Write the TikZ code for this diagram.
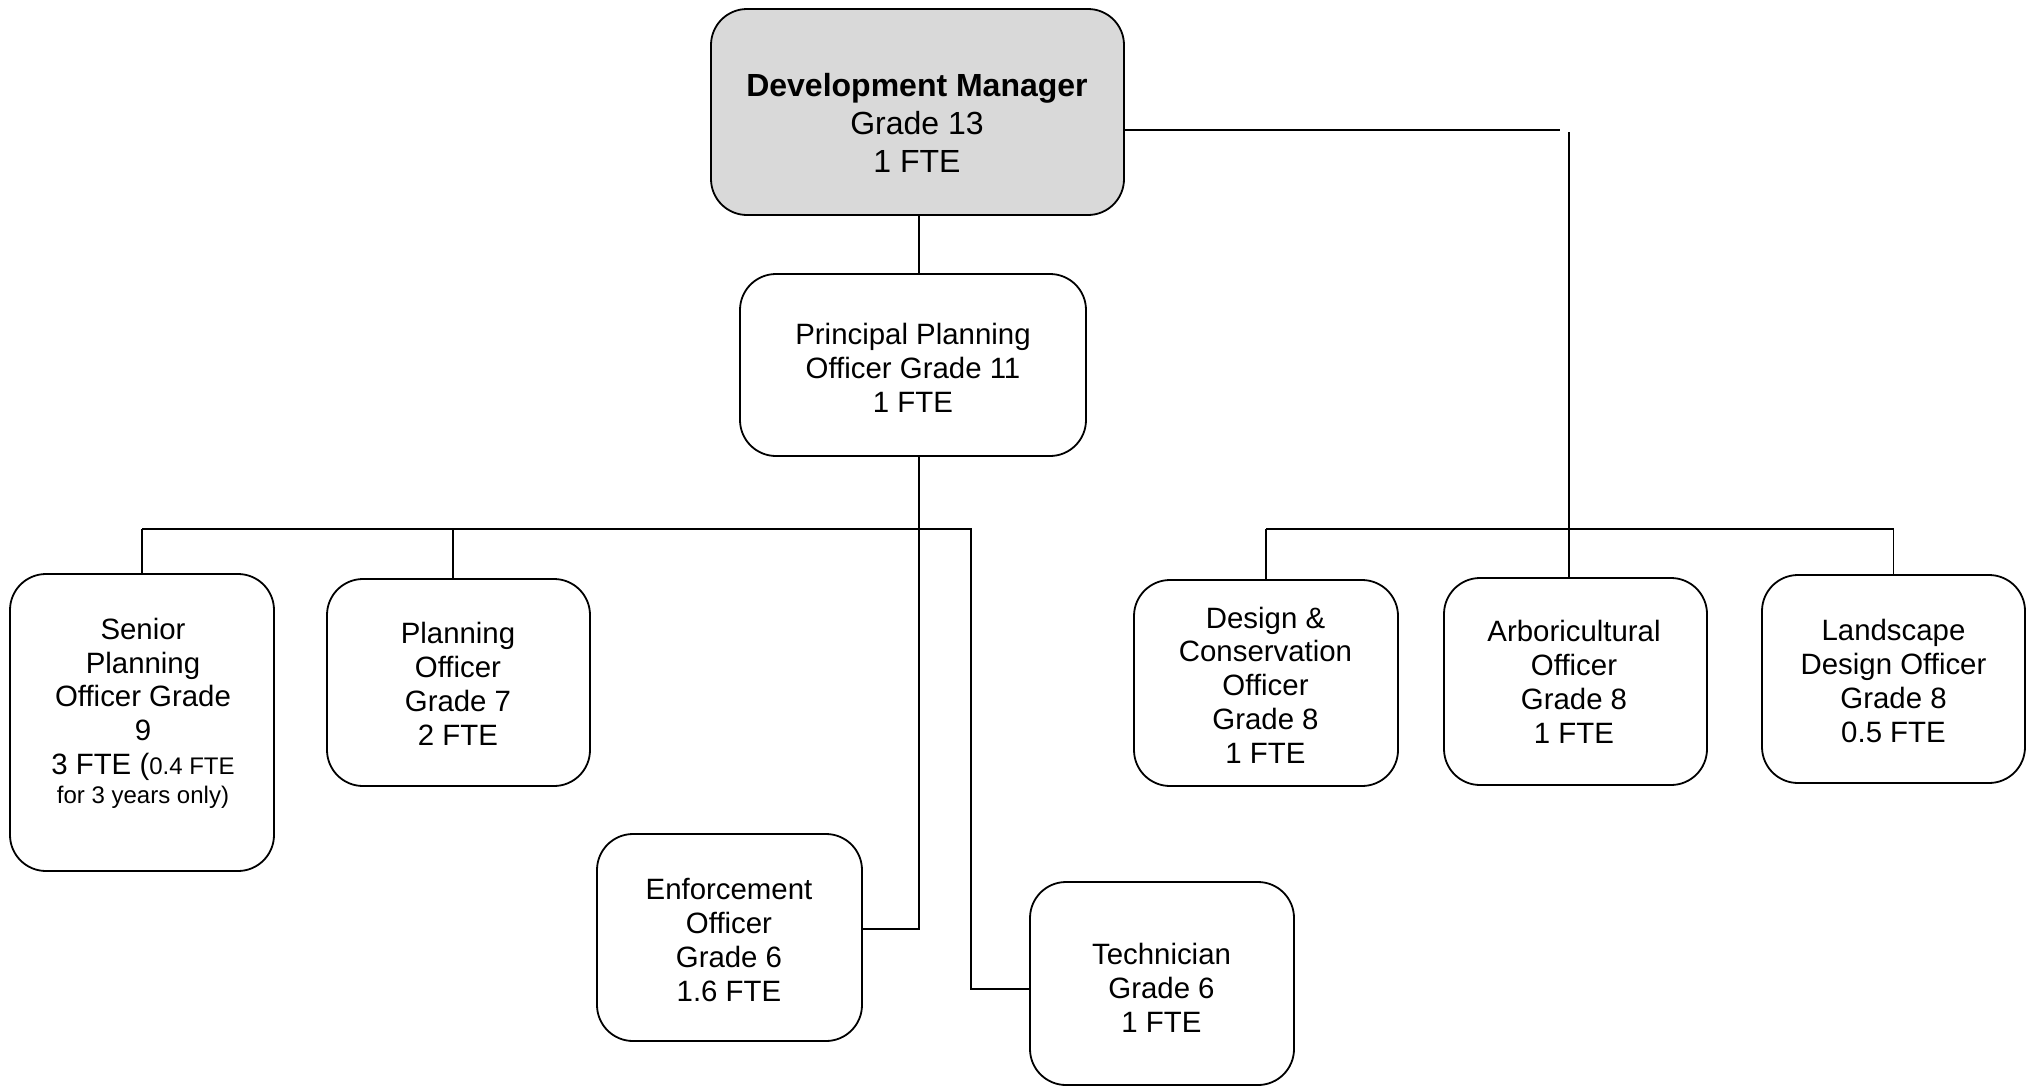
\documentclass[tikz,border=0pt]{standalone}
\usepackage{fontspec}
\setmainfont{Liberation Sans}
\begin{document}
\begin{tikzpicture}[x=0.5pt,y=-0.5pt,
  box/.style={draw=black, line width=0.9pt, rounded corners=18pt, inner sep=0pt, fill=white},
  txt/.style={align=center, font=\fontsize{14.7}{16.9}\selectfont, inner sep=0pt},
  bigtxt/.style={align=center, font=\fontsize{16}{18.8}\selectfont, inner sep=0pt},
  conn/.style={line width=0.9pt}]
\useasboundingbox (0,0) rectangle (2035,1087);
% boxes
\node[box, fill={rgb,255:red,217;green,217;blue,217}, minimum width=206.5pt, minimum height=103pt] (dm) at (917.5,112) {};
\node[box, minimum width=173pt, minimum height=91pt] (ppo) at (913,365) {};
\node[box, minimum width=132pt, minimum height=148.5pt] (sen) at (142,722.5) {};
\node[box, minimum width=131.5pt, minimum height=103.5pt] (pln) at (458.5,682.5) {};
\node[box, minimum width=132.5pt, minimum height=103.5pt] (enf) at (729.5,937.5) {};
\node[box, minimum width=132pt, minimum height=101.5pt] (tec) at (1162,983.5) {};
\node[box, minimum width=132pt, minimum height=103pt] (des) at (1266,683) {};
\node[box, minimum width=131.5pt, minimum height=103.5pt] (arb) at (1575.5,681.5) {};
\node[box, minimum width=131.5pt, minimum height=104pt] (lan) at (1893.5,679) {};
% texts
\node[bigtxt] (dmt) at (917,123) {\textbf{Development Manager}\\Grade 13\\1 FTE};
\node[txt] (ppot) at (913,368) {Principal Planning\\Officer Grade 11\\1 FTE};
\node[txt] (sent) at (143,713) {Senior\\Planning\\Officer Grade\\9\\3 FTE ({\fontsize{12}{14.3}\selectfont 0.4 FTE}\\[-2.6pt]{\fontsize{12}{14.3}\selectfont for 3 years only)}};
\node[txt] (plnt) at (458,684) {Planning\\Officer\\Grade 7\\2 FTE};
\node[txt] (enft) at (729,940) {Enforcement\\Officer\\Grade 6\\1.6 FTE};
\node[txt] (tect) at (1161.5,988) {Technician\\Grade 6\\1 FTE};
\node[txt] (dest) at (1265.5,685) {Design \&\\Conservation\\Officer\\Grade 8\\1 FTE};
\node[txt] (arbt) at (1574,682) {Arboricultural\\Officer\\Grade 8\\1 FTE};
\node[txt] (lant) at (1893.5,681) {Landscape\\Design Officer\\Grade 8\\0.5 FTE};
% connector helper points
\coordinate (sp) at (919,0);
\coordinate (ej) at (919,929);
\coordinate (lb) at (0,529);
\coordinate (tj) at (971,989);
\coordinate (pj) at (453,529);
\coordinate (dr) at (1560,130);
\coordinate (av) at (1569,132);
% connectors
\draw[conn] (dm.south -| sp) -- (ppo.north -| sp);
\draw[conn] (ppo.south -| sp) -- (ej) -- (ej -| enf.east);
\draw[conn] (sen.north |- lb) -- (tj |- lb) -- (tj) -- (tj -| tec.west);
\draw[conn] (sen.north |- lb) -- (sen.north);
\draw[conn] (pj) -- (pj |- pln.north);
\draw[conn] (dm.east |- dr) -- (dr);
\draw[conn] (av) -- (av |- arb.north);
\draw[conn] (des.north |- lb) -- (lan.north |- lb);
\draw[conn] (des.north |- lb) -- (des.north);
\draw[conn] (lan.north |- lb) -- (lan.north);
\end{tikzpicture}
\end{document}
